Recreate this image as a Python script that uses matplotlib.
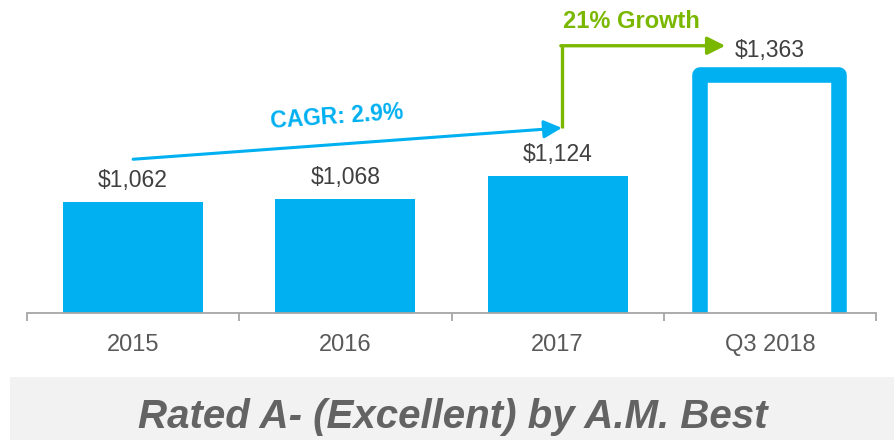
import matplotlib
matplotlib.use('Agg')
import matplotlib.pyplot as plt
from matplotlib.patches import Rectangle

plt.rcParams['font.family'] = ['Liberation Sans', 'DejaVu Sans']

# data
categories = ['2015', '2016', '2017', 'Q3 2018']
values = [1062, 1068, 1124, 1363]
value_labels = ['$1,062', '$1,068', '$1,124', '$1,363']
cagr_text = 'CAGR: 2.9%'
growth_text = '21% Growth'
banner_text = 'Rated A- (Excellent) by A.M. Best'

cyan = '#00B0F0'
green = '#7AB800'
axis_gray = '#A6A6A6'

W, H = 895, 440
fig = plt.figure(figsize=(W / 100, H / 100), dpi=100)
ax = fig.add_axes([27 / W, (H - 313) / H, 849 / W, 313 / H])

x = list(range(len(categories)))
width = 0.66

# filled bars for full years, outlined bar for the partial year
ax.bar(x[:-1], values[:-1], width, bottom=0, color=cyan, zorder=2)
outline = ax.bar(x[-1], values[-1], 0.655, bottom=0, fill=False,
                 edgecolor=cyan, linewidth=11.2, zorder=2)
for p in outline:
    p.set_joinstyle('round')

ax.set_xlim(-0.5, 3.5)
ax.set_ylim(800, 1539)

# value labels
for i, (v, lab) in enumerate(zip(values, value_labels)):
    off = 12.4 if i == len(values) - 1 else 10.8
    ax.annotate(lab, xy=(i, v), xytext=(0, off), textcoords='offset points',
                ha='center', va='baseline', fontsize=16.5, color='#404040')

# CAGR arrow across the full years
cagr_start = (0, values[0] + 101)
cagr_end = (2.02, values[2] + 113)
ax.annotate('', xy=cagr_end, xytext=cagr_start,
            arrowprops=dict(arrowstyle='-|>', color=cyan, lw=2.2,
                            mutation_scale=27, shrinkA=0, shrinkB=0))
ax.text(0.96, 1262, cagr_text, rotation=4, ha='center', va='center',
        fontsize=16.5, fontweight='bold', color=cyan)

# growth step arrow
step_top = 1431
ax.plot([cagr_end[0], cagr_end[0]], [cagr_end[1], step_top], color=green,
        lw=2.4, solid_capstyle='butt')
ax.annotate('', xy=(2.79, step_top), xytext=(cagr_end[0] - 0.005, step_top),
            arrowprops=dict(arrowstyle='-|>', color=green, lw=2.4,
                            mutation_scale=27, shrinkA=0, shrinkB=0))
ax.text(2.35, 1488, growth_text, ha='center', va='center',
        fontsize=17, fontweight='bold', color=green)

# axis styling
for s in ['top', 'left', 'right']:
    ax.spines[s].set_visible(False)
ax.spines['bottom'].set_color(axis_gray)
ax.spines['bottom'].set_linewidth(1.3)
ax.spines['bottom'].set_zorder(3)
ax.set_yticks([])
ax.set_xticks(x)
ax.set_xticklabels(categories, fontsize=17, color='#595959')
ax.tick_params(axis='x', which='major', length=0, pad=15)
ax.set_xticks([-0.5, 0.5, 1.5, 2.5, 3.5], minor=True)
ax.tick_params(axis='x', which='minor', length=5.8, width=1.3, color=axis_gray)

# rating banner
fig.patches.append(Rectangle((10 / W, 0), 1 - 10 / W, (H - 377) / H,
                             transform=fig.transFigure, facecolor='#F2F2F2',
                             edgecolor='none', zorder=0))
fig.text(453 / W, (H - 428) / H, banner_text, ha='center', va='baseline',
         fontsize=29, fontweight='bold', fontstyle='italic', color='#636363')

fig.savefig('out.png', dpi=100)
